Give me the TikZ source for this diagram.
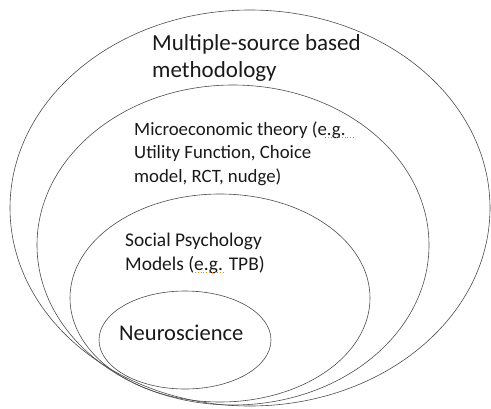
\documentclass[tikz,border=0pt]{standalone}
\usepackage{fontspec}
\setmainfont{Carlito}
\begin{document}
\begin{tikzpicture}[x=1pt,y=-1pt,
  ring/.style={draw=black!70,line width=0.6pt},
  lbl/.style={anchor=base west,inner sep=0pt,align=left,text=black!90},
  squiggle/.style={draw=orange!60!brown,line width=0.8pt,dotted}]
\useasboundingbox (0,0) rectangle (491,408);
\draw[ring] (250,208) ellipse [x radius=240, y radius=198];
\draw[ring] (233,245) ellipse [x radius=196, y radius=160];
\draw[ring] (220,298) ellipse [x radius=150, y radius=104];
\draw[ring] (185,340) ellipse [x radius=86, y radius=49];
\node[lbl,font=\fontsize{23}{27}\selectfont] (t1) at (152,77) {Multiple-source based\\methodology};
\node[lbl,font=\fontsize{18.8}{23.5}\selectfont] (t2) at (134,182) {Microeconomic theory (e.g.\\Utility Function, Choice\\model, RCT, nudge)};
\node[lbl,font=\fontsize{19.4}{23.5}\selectfont] (t3) at (125,270) {Social Psychology\\Models (e.g. TPB)};
\node[lbl,font=\fontsize{22.5}{25}\selectfont] (t4) at (119,340) {Neuroscience};
\draw[squiggle] (325,137.5) -- (354,137.5);
\draw[squiggle] (195,272.5) -- (224,272.5);
\end{tikzpicture}
\end{document}
